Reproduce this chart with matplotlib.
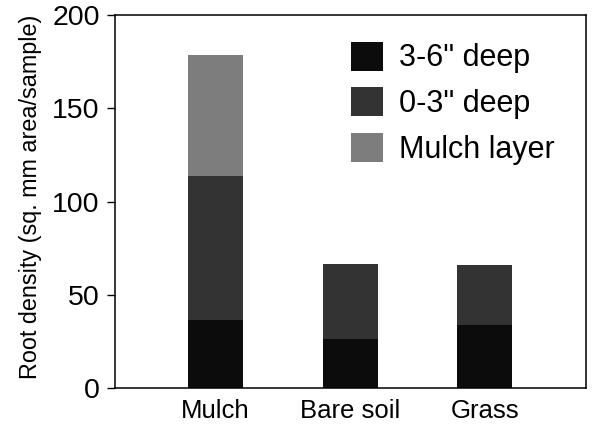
import numpy as np
import matplotlib
matplotlib.use("Agg")
import matplotlib.pyplot as plt

plt.rcParams['font.family'] = ['Liberation Sans', 'DejaVu Sans']

# Data
sites = ["Mulch", "Bare soil", "Grass"]
deep_3_6 = [36.5, 26.3, 33.8]
deep_0_3 = [77.2, 40.0, 32.3]
mulch_layer = [64.8, 0.0, 0.0]

layer_names = ['3-6" deep', '0-3" deep', 'Mulch layer']
layer_colors = ["#0c0c0c", "#333333", "#7d7d7d"]

fig = plt.figure(figsize=(5.94, 4.29), dpi=100)
ax = fig.add_axes([0.1936, 0.0956, 0.7929, 0.8694])

x = np.arange(len(sites))
w = 0.41
bottom = np.zeros(len(sites))
for vals, name, col in zip([deep_3_6, deep_0_3, mulch_layer], layer_names, layer_colors):
    vals = np.array(vals)
    mask = vals > 0
    ax.bar(x[mask], vals[mask], w, bottom=bottom[mask], color=col,
           edgecolor="none", label=name)
    bottom += vals

ax.set_xlim(-0.747, 2.751)
ax.set_ylim(0, 200)
ax.set_yticks([0, 50, 100, 150, 200])
ax.set_xticks(x)
ax.set_xticklabels(sites, fontsize=18.5)
ax.tick_params(axis='y', direction='out', length=6, width=1, pad=5, labelsize=20.5)
ax.tick_params(axis='x', length=0, pad=8)
for s in ax.spines.values():
    s.set_linewidth(1.1)

ax.set_ylabel("Root density (sq. mm area/sample)", fontsize=16.8)
ax.yaxis.set_label_coords(-0.155, 0.513)

ax.legend(loc='upper left', bbox_to_anchor=(0.456, 0.986), frameon=False,
          fontsize=22, handlelength=1.05, handleheight=1.08,
          handletextpad=0.5, labelspacing=0.45, borderaxespad=0.3)

fig.savefig("out.png", dpi=100)
